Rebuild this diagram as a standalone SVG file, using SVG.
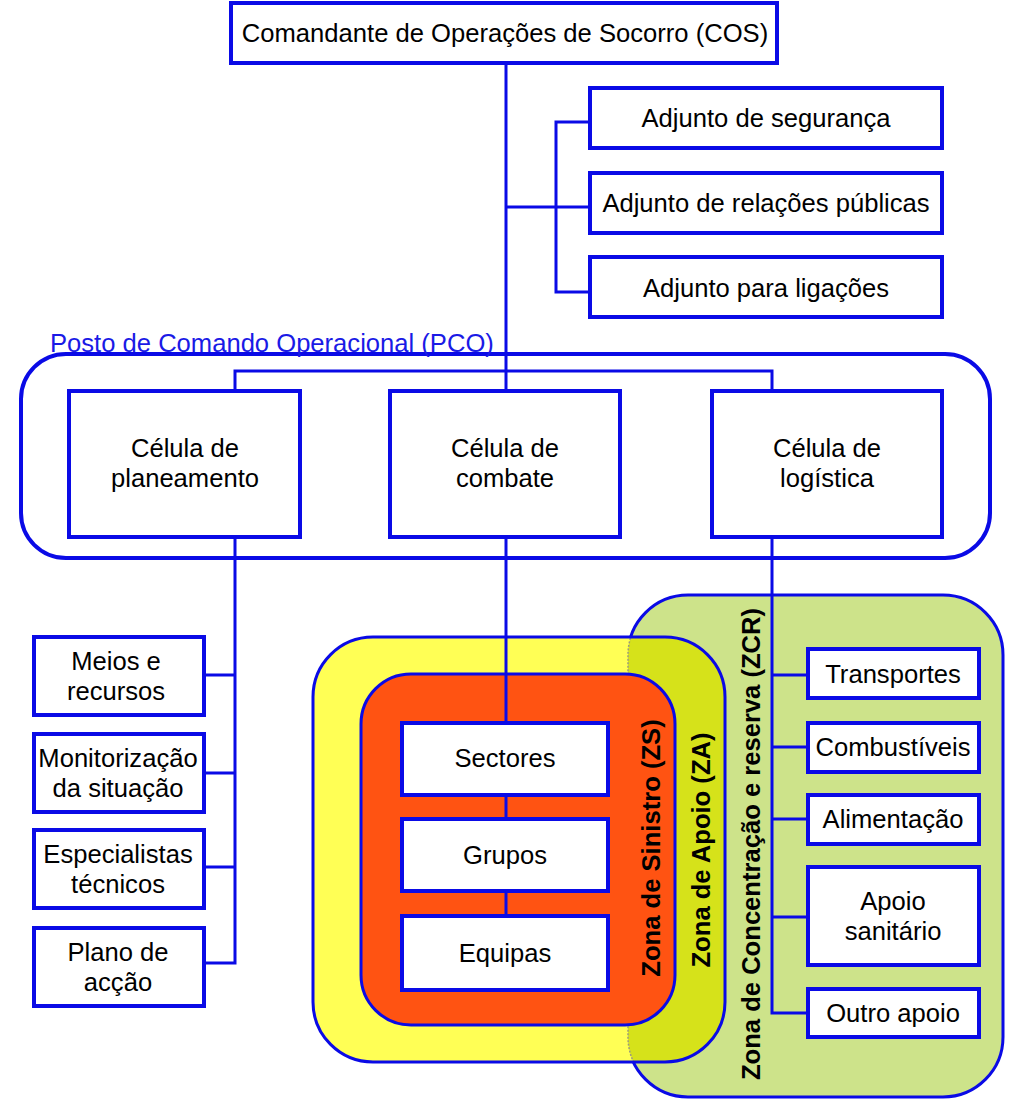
<svg xmlns="http://www.w3.org/2000/svg" width="1024" height="1100" viewBox="0 0 1024 1100">
<style>
  .box { fill: #ffffff; stroke: #0a0ae6; stroke-width: 4; }
  .conn { fill: none; stroke: #0a0ae6; stroke-width: 3; }
  .t { font-family: "Liberation Sans", Arial, sans-serif; font-size: 25.6px; fill: #000; text-anchor: middle; }
  .vt { font-family: "Liberation Sans", Arial, sans-serif; font-size: 25.6px; font-weight: bold; fill: #000; text-anchor: middle; }
  .zone { stroke: #0a0ae6; stroke-width: 3; }
</style>
<defs>
  <clipPath id="greenClip"><rect x="628" y="595" width="375" height="502" rx="60" ry="60"/></clipPath>
  <clipPath id="yellowClip"><rect x="313" y="637" width="412" height="425" rx="60" ry="60"/></clipPath>
</defs>
<rect width="1024" height="1100" fill="#ffffff"/>

<!-- Zones -->
<g id="zona-zcr">
  <rect class="zone" x="628" y="595" width="375" height="502" rx="60" ry="60" fill="#cde38a"/>
</g>
<g id="zona-za">
  <rect x="313" y="637" width="412" height="425" rx="60" ry="60" fill="#ffff55"/>
  <rect x="313" y="637" width="412" height="425" rx="60" ry="60" fill="#d6e21a" clip-path="url(#greenClip)"/>
  <rect x="628" y="595" width="375" height="502" rx="60" ry="60" fill="none" stroke="#9a9a80" stroke-width="1.5" stroke-dasharray="2 1.5" clip-path="url(#yellowClip)"/>
  <rect class="zone" x="313" y="637" width="412" height="425" rx="60" ry="60" fill="none"/>
</g>
<g id="zona-zs">
  <rect class="zone" x="361" y="674" width="314" height="351" rx="50" ry="50" fill="#ff5312"/>
</g>

<!-- PCO container -->
<g id="pco">
  <rect x="21" y="354" width="969" height="204" rx="45" ry="45" fill="none" stroke="#0a0ae6" stroke-width="4"/>
  <text x="50" y="352" style="font-family:'Liberation Sans', Arial, sans-serif; font-size:25.6px; fill:#1a1ae6;">Posto de Comando Operacional (PCO)</text>
</g>

<!-- Connectors -->
<g id="connectors">
  <line class="conn" x1="506" y1="63" x2="506" y2="391"/>
  <path class="conn" d="M506 207 H590 M590 122 H556 V292 H590"/>
  <path class="conn" d="M235 391 V371 H772 V391"/>
  <path class="conn" d="M235 537 V963 H204 M235 675 H204 M235 773 H204 M235 867 H204"/>
  <line class="conn" x1="506" y1="537" x2="506" y2="723"/>
  <line class="conn" x1="506" y1="795" x2="506" y2="819"/>
  <line class="conn" x1="506" y1="891" x2="506" y2="916"/>
  <path class="conn" d="M772 537 V1013 H808 M772 675 H808 M772 747 H808 M772 819 H808 M772 917 H808"/>
</g>

<!-- Nodes -->
<g id="cos">
  <rect class="box" x="231" y="3" width="546" height="60"/>
  <text class="t" x="505" y="42">Comandante de Operações de Socorro (COS)</text>
</g>
<g id="adj-seguranca">
  <rect class="box" x="590" y="88" width="352" height="60"/>
  <text class="t" x="766" y="127">Adjunto de segurança</text>
</g>
<g id="adj-relacoes">
  <rect class="box" x="590" y="173" width="352" height="60"/>
  <text class="t" x="766" y="212">Adjunto de relações públicas</text>
</g>
<g id="adj-ligacoes">
  <rect class="box" x="590" y="257" width="352" height="60"/>
  <text class="t" x="766" y="297">Adjunto para ligações</text>
</g>

<g id="cel-planeamento">
  <rect class="box" x="69" y="391" width="231" height="146"/>
  <text class="t" x="185" y="457">Célula de</text>
  <text class="t" x="185" y="487">planeamento</text>
</g>
<g id="cel-combate">
  <rect class="box" x="390" y="391" width="230" height="146"/>
  <text class="t" x="505" y="457">Célula de</text>
  <text class="t" x="505" y="487">combate</text>
</g>
<g id="cel-logistica">
  <rect class="box" x="712" y="391" width="230" height="146"/>
  <text class="t" x="827" y="457">Célula de</text>
  <text class="t" x="827" y="487">logística</text>
</g>

<g id="meios">
  <rect class="box" x="34" y="637" width="170" height="78"/>
  <text class="t" x="116" y="670">Meios e</text>
  <text class="t" x="116" y="700">recursos</text>
</g>
<g id="monitorizacao">
  <rect class="box" x="34" y="734" width="170" height="78"/>
  <text class="t" x="118" y="767">Monitorização</text>
  <text class="t" x="118" y="797">da situação</text>
</g>
<g id="especialistas">
  <rect class="box" x="34" y="830" width="170" height="78"/>
  <text class="t" x="118" y="863">Especialistas</text>
  <text class="t" x="118" y="893">técnicos</text>
</g>
<g id="plano">
  <rect class="box" x="34" y="928" width="170" height="78"/>
  <text class="t" x="118" y="961">Plano de</text>
  <text class="t" x="118" y="991">acção</text>
</g>

<g id="sectores">
  <rect class="box" x="402" y="723" width="206" height="72"/>
  <text class="t" x="505" y="767">Sectores</text>
</g>
<g id="grupos">
  <rect class="box" x="402" y="819" width="206" height="72"/>
  <text class="t" x="505" y="864">Grupos</text>
</g>
<g id="equipas">
  <rect class="box" x="402" y="916" width="206" height="74"/>
  <text class="t" x="505" y="962">Equipas</text>
</g>

<g id="transportes">
  <rect class="box" x="808" y="649" width="171" height="49"/>
  <text class="t" x="893" y="683">Transportes</text>
</g>
<g id="combustiveis">
  <rect class="box" x="808" y="723" width="171" height="49"/>
  <text class="t" x="893" y="756">Combustíveis</text>
</g>
<g id="alimentacao">
  <rect class="box" x="808" y="795" width="171" height="49"/>
  <text class="t" x="893" y="828">Alimentação</text>
</g>
<g id="apoio-sanitario">
  <rect class="box" x="808" y="867" width="171" height="98"/>
  <text class="t" x="893" y="910">Apoio</text>
  <text class="t" x="893" y="940">sanitário</text>
</g>
<g id="outro-apoio">
  <rect class="box" x="808" y="989" width="171" height="48"/>
  <text class="t" x="893" y="1022">Outro apoio</text>
</g>

<!-- Zone labels -->
<g id="labels-zonas">
  <text class="vt" transform="translate(660 848) rotate(-90)">Zona de Sinistro (ZS)</text>
  <text class="vt" transform="translate(710 850) rotate(-90)">Zona de Apoio (ZA)</text>
  <text class="vt" transform="translate(760 844) rotate(-90)">Zona de Concentração e reserva (ZCR)</text>
</g>
</svg>
